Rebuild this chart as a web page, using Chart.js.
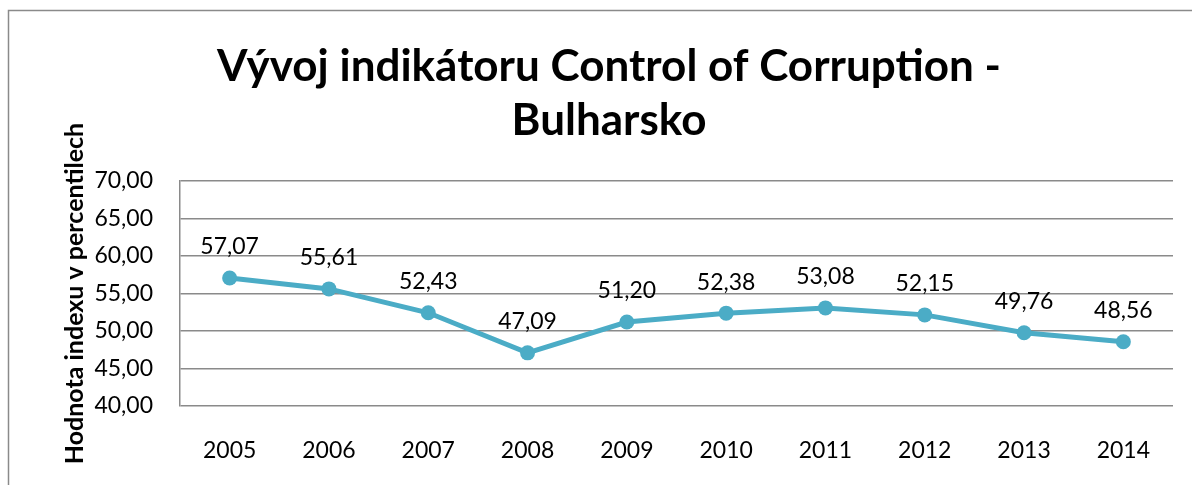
<!DOCTYPE html>
<html><head><meta charset="utf-8">
<script src="https://cdn.jsdelivr.net/npm/chart.js@4/dist/chart.umd.min.js"></script>
<style>html,body{margin:0;padding:0;background:#fff}#wrap{width:1192px;height:485px;position:relative}</style>
</head><body><div id="wrap"><canvas id="c" width="1192" height="485"></canvas></div>
<script>
const years = ['2005','2006','2007','2008','2009','2010','2011','2012','2013','2014'];
const values = [57.07, 55.61, 52.43, 47.09, 51.20, 52.38, 53.08, 52.15, 49.76, 48.56];
const titleLines = ['Vývoj indikátoru Control of Corruption -', 'Bulharsko'];
const yTitle = 'Hodnota indexu v percentilech';
const FONT = 'Lato, "Open Sans", sans-serif';
const fmt = v => v.toFixed(2).replace('.', ',');

const frame = {
  id: 'frame',
  beforeDraw(chart) {
    const ctx = chart.ctx;
    ctx.save();
    ctx.strokeStyle = '#8a8a8a'; ctx.lineWidth = 1.5;
    ctx.strokeRect(8.5, 10.5, 1200, 500);
    ctx.restore();
  },
  afterDraw(chart) {
    const ctx = chart.ctx;
    ctx.save();
    ctx.fillStyle = '#000';
    ctx.font = 'bold 44px ' + FONT;
    ctx.textAlign = 'center'; ctx.textBaseline = 'middle';
    ctx.fillText(titleLines[0], 609, 67);
    ctx.fillText(titleLines[1], 609, 121);
    const meta = chart.getDatasetMeta(0);
    ctx.font = '23px ' + FONT;
    meta.data.forEach((pt, i) => {
      ctx.fillText(fmt(values[i]), pt.x, pt.y - 31);
    });
    ctx.restore();
  }
};

new Chart(document.getElementById('c'), {
  type: 'line',
  data: { labels: years, datasets: [{
    data: values, borderColor: '#4bacc6', backgroundColor: '#4bacc6',
    borderWidth: 5, pointRadius: 7.5, pointHoverRadius: 7.5, tension: 0,
    pointBorderWidth: 0
  }]},
  options: {
    responsive: false, animation: false,
    layout: { padding: { top: 181, right: 19, left: 0, bottom: 0 } },
    plugins: { legend: { display: false }, tooltip: { enabled: false } },
    scales: {
      x: {
        offset: true,
        grid: { display: false, drawTicks: false },
        border: { display: false },
        ticks: { color: '#000', font: { family: FONT, size: 23 }, padding: 31, maxRotation: 0 },
        afterFit(s) { s.height = 79; }
      },
      y: {
        min: 40, max: 70,
        ticks: { stepSize: 5, color: '#000', font: { family: FONT, size: 23 }, padding: 27, callback: v => fmt(v) },
        grid: { color: '#8a8a8a', lineWidth: 1.5, drawTicks: false },
        border: { display: true, color: '#8a8a8a', width: 1.5 },
        title: { display: true, text: yTitle, color: '#000', font: { family: FONT, size: 25, weight: 'bold' }, padding: { top: 60, bottom: 0 } },
        afterFit(s) { s.width = 180; }
      }
    }
  },
  plugins: [frame]
});
</script></body></html>
